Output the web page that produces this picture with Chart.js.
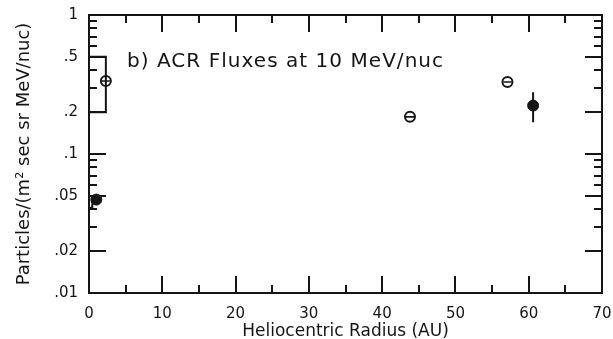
<!DOCTYPE html>
<html>
<head>
<meta charset="utf-8">
<script src="https://cdn.jsdelivr.net/npm/chart.js@4"></script>
<style>
  html, body { margin: 0; padding: 0; background: #fff; }
  #wrap { width: 613px; height: 339px; }
</style>
</head>
<body>
<div id="wrap"><canvas id="acrChart" width="613" height="339"></canvas></div>
<script>
// ACR fluxes at 10 MeV/nuc versus heliocentric radius
const openX = [2.3, 43.8, 57.1];
const openY = [0.335, 0.185, 0.33];
const filledX = [1.0, 60.6];
const filledY = [0.047, 0.223];
const filledErrLow = [null, 0.169];
const filledErrHigh = [null, 0.278];
// range brackets drawn next to the y axis (1 AU)
const bigBracketX = [0, 2.3, 2.3, 0];
const bigBracketY = [0.5, 0.5, 0.2, 0.2];
const smallBracketX = [0, 0.45, 0.45];
const smallBracketY = [0.041, 0.041, 0.05];

const xTickLabels = [0, 10, 20, 30, 40, 50, 60, 70];
const yTickLabels = [1, 0.5, 0.2, 0.1, 0.05, 0.02, 0.01];
const yTickText = ['1', '.5', '.2', '.1', '.05', '.02', '.01'];

const INK = '#151515';
const FONT = '"DejaVu Sans", sans-serif';

function toPoints(xs, ys) {
    return xs.map((x, i) => ({ x: x, y: ys[i] }));
}

// vertical error bars for the filled points
const errorBars = [];
filledX.forEach((x, i) => {
    if (filledErrLow[i] != null) {
        errorBars.push({ x: x, y: filledErrHigh[i] });
        errorBars.push({ x: x, y: filledErrLow[i] });
        errorBars.push({ x: NaN, y: NaN });
    }
});

/**
 * Inward tick marks on all four sides, frame and in-plot label
 */
const framePlugin = {
    id: 'frameTicks',
    afterDraw(chart) {
        const { ctx, chartArea: { left, right, top, bottom }, scales: { x, y } } = chart;
        ctx.save();
        ctx.strokeStyle = INK;
        ctx.lineWidth = 2;
        ctx.strokeRect(left, top, right - left, bottom - top);

        ctx.beginPath();
        for (let v = 0; v <= 70; v += 5) {
            const px = Math.round(x.getPixelForValue(v));
            const len = v % 10 === 0 ? 17 : 8;
            ctx.moveTo(px, bottom); ctx.lineTo(px, bottom - len);
            ctx.moveTo(px, top); ctx.lineTo(px, top + len);
        }
        [0.01, 0.1].forEach(d => {
            for (let m = 1; m <= 9; m++) {
                const v = m * d;
                const py = Math.round(y.getPixelForValue(v));
                const len = (m === 1 || m === 2 || m === 5) ? 17 : 8;
                ctx.moveTo(left, py); ctx.lineTo(left + len, py);
                ctx.moveTo(right, py); ctx.lineTo(right - len, py);
            }
        });
        ctx.stroke();

        // horizontal bar through the open circles
        ctx.lineWidth = 1.6;
        ctx.beginPath();
        openX.forEach((v, i) => {
            const px = x.getPixelForValue(v);
            const py = y.getPixelForValue(openY[i]);
            ctx.moveTo(px - 4, py); ctx.lineTo(px + 4, py);
        });
        ctx.stroke();

        // panel label
        const label = 'b) ACR Fluxes at 10 MeV/nuc';
        ctx.font = '20px ' + FONT;
        ctx.fillStyle = INK;
        ctx.textBaseline = 'middle';
        const w = ctx.measureText(label).width;
        ctx.letterSpacing = Math.max(0, (316 - w) / (label.length - 1)).toFixed(2) + 'px';
        ctx.fillText(label, left + 38, top + 47);
        ctx.restore();
    }
};

new Chart(document.getElementById('acrChart'), {
    type: 'scatter',
    data: {
        datasets: [
            {
                label: 'bracket',
                data: toPoints(bigBracketX, bigBracketY),
                showLine: true,
                borderColor: INK,
                borderWidth: 2,
                pointRadius: 0,
                tension: 0
            },
            {
                label: 'small bracket',
                data: toPoints(smallBracketX, smallBracketY),
                showLine: true,
                borderColor: INK,
                borderWidth: 2,
                pointRadius: 0,
                tension: 0
            },
            {
                label: 'error',
                data: errorBars,
                showLine: true,
                spanGaps: false,
                borderColor: INK,
                borderWidth: 2,
                pointRadius: 0
            },
            {
                label: 'open',
                data: toPoints(openX, openY),
                pointStyle: 'circle',
                pointRadius: 5,
                pointBorderWidth: 2,
                pointBackgroundColor: '#fff',
                pointBorderColor: INK
            },
            {
                label: 'filled',
                data: toPoints(filledX, filledY),
                pointStyle: 'circle',
                pointRadius: 5.5,
                pointBorderWidth: 1,
                pointBackgroundColor: INK,
                pointBorderColor: INK
            }
        ]
    },
    options: {
        responsive: false,
        animation: false,
        layout: { padding: { left: 0, right: 11, top: 15, bottom: 0 } },
        plugins: {
            legend: { display: false },
            tooltip: { enabled: false }
        },
        scales: {
            x: {
                type: 'linear',
                min: 0,
                max: 70,
                afterBuildTicks: scale => {
                    scale.ticks = xTickLabels.map(v => ({ value: v }));
                },
                afterFit: scale => {
                    scale.height = 46;
                    scale.paddingLeft = 0;
                    scale.paddingRight = 0;
                },
                grid: { display: false, drawTicks: false },
                border: { display: false },
                ticks: {
                    color: INK,
                    padding: 12,
                    font: { family: FONT, size: 15 }
                },
                title: {
                    display: true,
                    text: 'Heliocentric Radius (AU)',
                    color: INK,
                    padding: { top: 3, bottom: -3 },
                    font: { family: FONT, size: 17 }
                }
            },
            y: {
                type: 'logarithmic',
                min: 0.01,
                max: 1,
                afterBuildTicks: scale => {
                    scale.ticks = yTickLabels.map(v => ({ value: v }));
                },
                afterFit: scale => {
                    scale.width = 89;
                    scale.paddingTop = 0;
                    scale.paddingBottom = 0;
                },
                grid: { display: false, drawTicks: false },
                border: { display: false },
                ticks: {
                    color: INK,
                    padding: 11,
                    font: { family: FONT, size: 15 },
                    callback: function (value) {
                        const i = yTickLabels.indexOf(value);
                        return i >= 0 ? yTickText[i] : '';
                    }
                },
                title: {
                    display: true,
                    text: 'Particles/(m² sec sr MeV/nuc)',
                    color: INK,
                    padding: { top: 14, bottom: 0 },
                    font: { family: FONT, size: 18 }
                }
            }
        }
    },
    plugins: [framePlugin]
});
</script>
</body>
</html>
